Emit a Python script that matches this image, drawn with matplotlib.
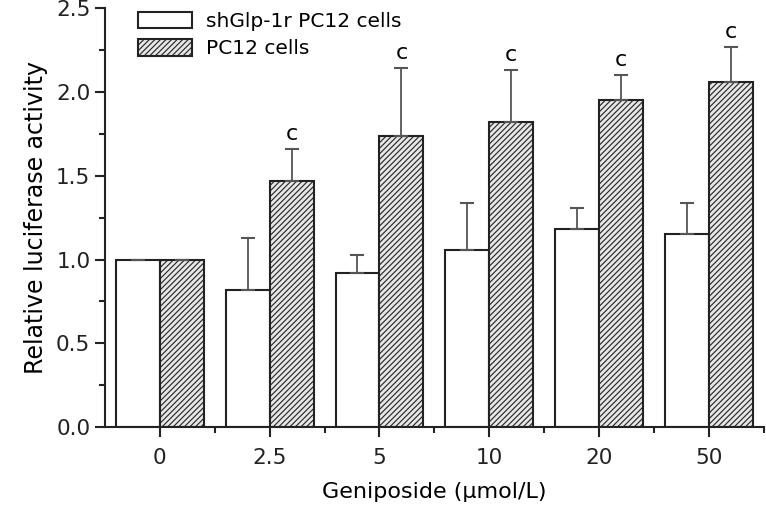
import matplotlib
matplotlib.use('Agg')
import matplotlib.pyplot as plt
import numpy as np
from matplotlib.ticker import MultipleLocator

# Dados
doses = ['0', '2.5', '5', '10', '20', '50']
shglp = [1.0, 0.82, 0.92, 1.06, 1.18, 1.15]
shglp_err = [0.0, 0.31, 0.11, 0.28, 0.13, 0.19]
pc12 = [1.0, 1.47, 1.74, 1.82, 1.95, 2.06]
pc12_err = [0.0, 0.19, 0.40, 0.31, 0.15, 0.21]
sig = ['', 'c', 'c', 'c', 'c', 'c']

plt.rcParams['font.family'] = ['DejaVu Sans']
plt.rcParams['hatch.color'] = '#333333'
plt.rcParams['hatch.linewidth'] = 0.8

fig = plt.figure(figsize=(7.66, 5.08), dpi=100)
ax = fig.add_axes([0.137, 0.159, 0.86, 0.825])

x = np.arange(len(doses))
w = 0.4
ax.bar(x - w / 2, shglp, w, color='white', edgecolor='#222222', linewidth=1.5,
       label='shGlp-1r PC12 cells')
ax.bar(x + w / 2, pc12, w, color='#e6e6e6', edgecolor='#222222', linewidth=1.5,
       hatch='//////', label='PC12 cells')

# barras de erro só para cima
ax.errorbar(x - w / 2, shglp, yerr=[np.zeros(len(x)), shglp_err], fmt='none',
            ecolor='#555555', elinewidth=1.3, capsize=5, capthick=1.5)
ax.errorbar(x + w / 2, pc12, yerr=[np.zeros(len(x)), pc12_err], fmt='none',
            ecolor='#555555', elinewidth=1.3, capsize=5, capthick=1.5)

for xi, v, e, s in zip(x, pc12, pc12_err, sig):
    if s:
        ax.text(xi + w / 2, v + e + 0.03, s, ha='center', va='bottom', fontsize=16)

ax.set_xlim(-0.5, 5.5)
ax.set_ylim(0, 2.5)
ax.set_xticks(x)
ax.set_xticklabels(doses)
ax.set_xticks(x + 0.5, minor=True)
ax.yaxis.set_major_locator(MultipleLocator(0.5))
ax.yaxis.set_minor_locator(MultipleLocator(0.25))
ax.yaxis.set_major_formatter(matplotlib.ticker.FormatStrFormatter('%.1f'))
ax.tick_params(axis='both', which='major', length=7, width=1.5, labelsize=15.5, colors='#222222')
ax.tick_params(axis='both', which='minor', length=4, width=1.5, colors='#222222')
ax.tick_params(axis='x', pad=8)

for sp in ['top', 'right']:
    ax.spines[sp].set_visible(False)
for sp in ['left', 'bottom']:
    ax.spines[sp].set_linewidth(1.5)
    ax.spines[sp].set_color('#222222')

ax.set_xlabel('Geniposide (μmol/L)', fontsize=16, labelpad=10)
ax.set_ylabel('Relative luciferase activity', fontsize=17, labelpad=6)

ax.legend(loc='upper left', bbox_to_anchor=(0.022, 1.035), frameon=False, fontsize=14.5,
          handlelength=2.7, handleheight=0.9, handletextpad=0.7, labelspacing=0.4)

plt.savefig('out.png', dpi=100)
